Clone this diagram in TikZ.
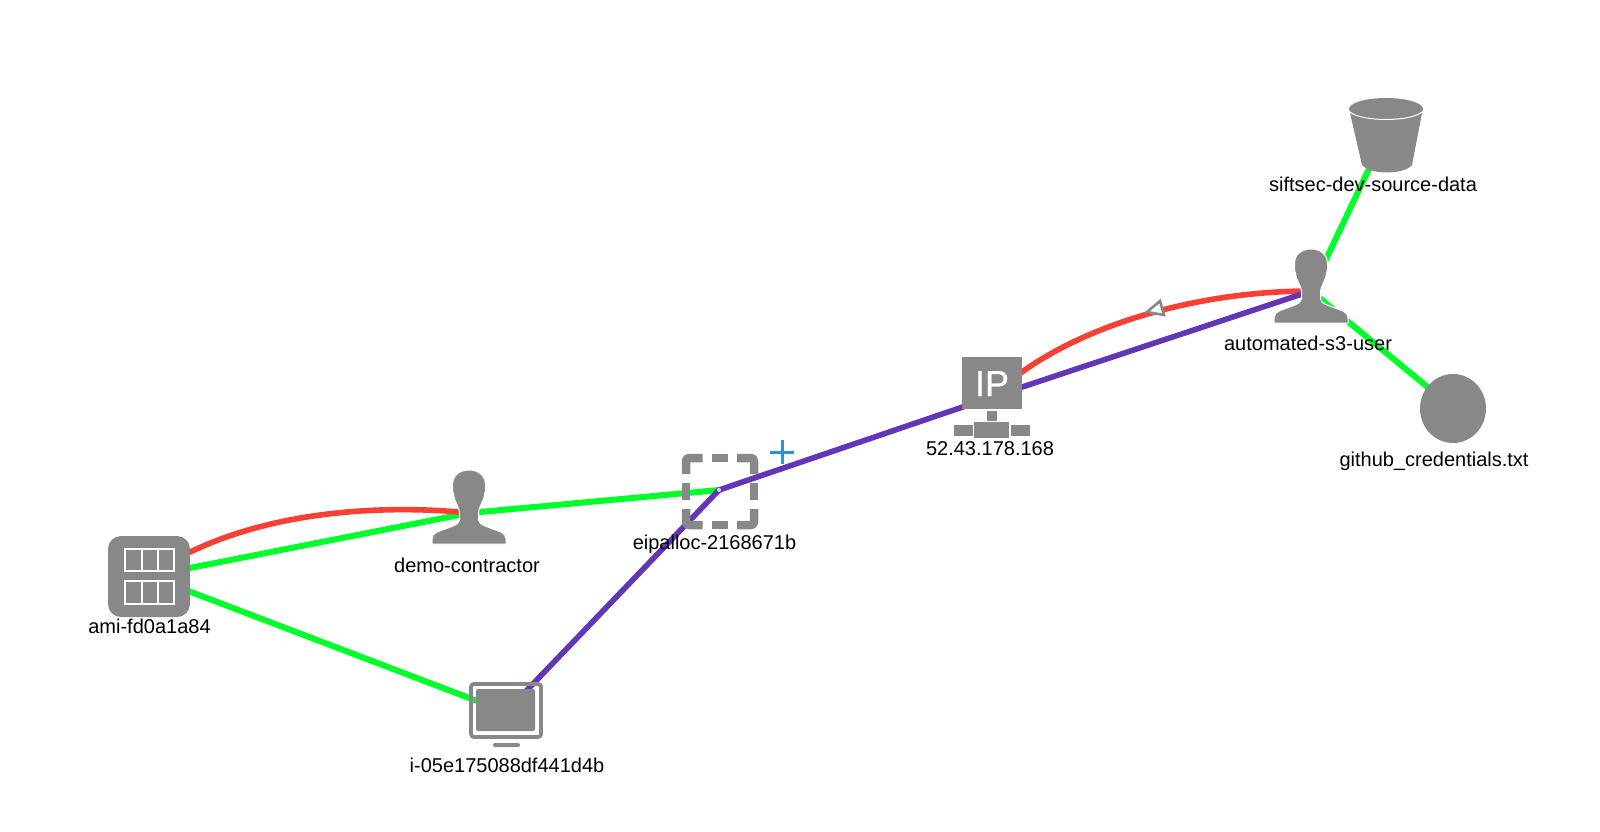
\documentclass[tikz,border=0pt]{standalone}
\usepackage{fontspec}
\setmainfont{Liberation Sans}
\newfontfamily\ipfont[FakeBold=0.8]{Liberation Sans}
\usetikzlibrary{backgrounds,calc}
\definecolor{icongray}{HTML}{888888}
\definecolor{grn}{HTML}{00FF2A}
\definecolor{redl}{HTML}{F54033}
\definecolor{purp}{HTML}{6336B8}
\definecolor{plusblue}{HTML}{1A9AD6}
\tikzset{
  greenedge/.style={draw=grn,line width=6pt},
  rededge/.style={draw=redl,line width=5.6pt},
  purpleedge/.style={draw=purp,line width=5.6pt},
  lbl/.style={anchor=base,inner sep=0pt,font=\fontsize{20}{24}\selectfont,text=black},
  person/.pic={
    \path[fill=icongray,draw=white,line width=1pt]
      (-16.5,15) .. controls (-16.5,5) and (-9,0) .. (0,0)
      .. controls (9,0) and (16.5,5) .. (16.5,15)
      -- (16.5,21) -- (15.5,24)
      .. controls (15,32) and (9.5,36) .. (9.5,44)
      -- (9.5,50) .. controls (10,53) and (12,54) .. (16,56)
      -- (32,62) .. controls (35,63) and (37,66) .. (37,69)
      -- (37,74) -- (-37,74) -- (-37,69)
      .. controls (-37,66) and (-35,63) .. (-32,62)
      -- (-16,56) .. controls (-12,54) and (-10,53) .. (-9.5,50)
      -- (-9.5,44) .. controls (-9.5,36) and (-15,32) .. (-15.5,24)
      -- (-16.5,21) -- cycle;
  }
}
\begin{document}
\begin{tikzpicture}[x=1pt,y=-1pt]
\useasboundingbox (0,0) rectangle (1600,831);

% anchor points of the graph
\coordinate (ami) at (149,576);
\coordinate (demo) at (469,513);
\coordinate (eip) at (719,490);
\coordinate (inst) at (506,712);
\coordinate (ip) at (992,397);
\coordinate (auto) at (1311,291);
\coordinate (bucket) at (1385,135);
\coordinate (file) at (1453,408);

% connectors behind the icons
\begin{pgfonlayer}{background}
  \fill[white] (0,0) rectangle (1600,831);
  \draw[greenedge] (ami) -- (demo);
  \draw[greenedge] (ami) -- (inst);
  \draw[greenedge] (demo) -- (eip);
  \draw[greenedge] (auto) -- (bucket);
  \draw[greenedge] (auto) -- (file);
  \draw[rededge] (ami) .. controls +(100,-70) and +(-75,-8) .. (demo);
  \draw[rededge] (ip) .. controls +(68,-67) and +(-121,-0) .. (auto);
  \draw[purpleedge] (inst) -- (eip);
  \draw[purpleedge] (eip) -- (ip);
  \draw[purpleedge] (ip) -- (auto);
\end{pgfonlayer}

% junction dot
\fill[white!70!icongray] (eip) circle (2pt);

% arrowhead on the red edge
\draw[icongray,fill=white,line width=2.6pt,line join=miter]
  (1147,312) -- (1160,301) -- (1164,315) -- cycle;

% ami icon
\fill[icongray,rounded corners=13pt] (108,536) rectangle (190,617);
\foreach \ya/\yb in {549/571,581/604}{
  \draw[white,line width=2pt] (125,\ya) rectangle (174,\yb);
  \draw[white,line width=2pt] (141.5,\ya) -- (141.5,\yb) (157.5,\ya) -- (157.5,\yb);
}

% persons
\pic at (469,470) {person};
\pic at (1311,249) {person};

% elastic ip allocation: dashed square
\begin{scope}[icongray,line width=8.5pt,line cap=butt,line join=round]
  \draw[rounded corners=3pt] (686,474) -- (686,458) -- (702.5,458);
  \draw (711.5,458) -- (728,458);
  \draw[rounded corners=3pt] (737,458) -- (754,458) -- (754,474);
  \draw (686,483) -- (686,500);
  \draw (754,483) -- (754,500);
  \draw[rounded corners=3pt] (686,509) -- (686,525) -- (702.5,525);
  \draw (711.5,525) -- (728,525);
  \draw[rounded corners=3pt] (737,525) -- (754,525) -- (754,509);
\end{scope}

% plus
\draw[plusblue,line width=3pt] (770,452) -- (794,452) (782,440) -- (782,464);

% IP icon
\fill[icongray] (962,357) rectangle (1022,409);
\fill[icongray] (987,411) rectangle (997,421);
\fill[icongray] (974,422) rectangle (1009,438);
\fill[icongray] (954,425) rectangle (973,436);
\fill[icongray] (1011,425) rectangle (1030,436);
\node[anchor=base,inner sep=0pt,text=white,font=\ipfont\fontsize{36}{40}\selectfont] (iptext) at (992,396) {IP};

% instance icon
\draw[icongray,line width=3.8pt,rounded corners=3pt] (471,684) rectangle (541,737);
\fill[icongray,rounded corners=2pt] (476,689) rectangle (535,731);
\fill[icongray,rounded corners=2pt] (493,743) rectangle (520,747);

% bucket icon
\fill[icongray] (1350,113) -- (1362,165) .. controls (1370,175) and (1404,175) .. (1412,165) -- (1422,113) -- cycle;
\fill[icongray] (1386,109) ellipse (37pt and 11pt);
\draw[white,line width=1pt] (1350,112) .. controls (1362,122) and (1410,122) .. (1422,112);

% file icon
\fill[icongray] (1453,408.5) ellipse (33pt and 34.5pt);

% labels
\node[lbl] (amilabel) at (149.5,633.5) {ami-fd0a1a84};
\node[lbl] (demolabel) at (467,572) {demo-contractor};
\node[lbl] (eiplabel) at (714.5,549) {eipalloc-2168671b};
\node[lbl] (iplabel) at (990,455.5) {52.43.178.168};
\node[lbl] (bucketlabel) at (1373,191) {siftsec-dev-source-data};
\node[lbl] (autolabel) at (1308,350) {automated-s3-user};
\node[lbl] (filelabel) at (1434,466) {github\_credentials.txt};
\node[lbl] (instlabel) at (507,772) {i-05e175088df441d4b};
\end{tikzpicture}
\end{document}
